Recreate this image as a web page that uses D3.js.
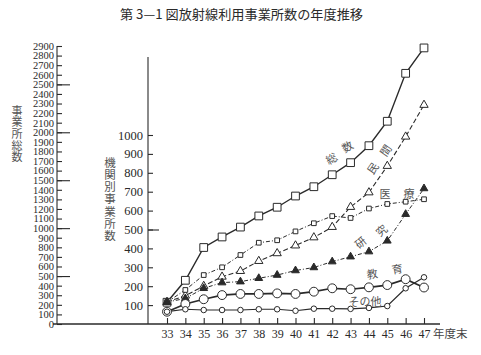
<!DOCTYPE html>
<html><head><meta charset="utf-8">
<script src="https://cdn.jsdelivr.net/npm/d3@7"></script>
<style>body{margin:0;background:#fff}svg{display:block}</style>
</head><body>
<script>
// ---- data ----
const years = [33,34,35,36,37,38,39,40,41,42,43,44,45,46,47];
const yearLabels = ["33","34","35","36","37","38","39","40","41","42","43","44","45","46","47"];
const leftTicks = [0,100,200,300,400,500,600,700,800,900,1000,1100,1200,1300,1400,1500,1600,1700,1800,1900,2000,2100,2200,2300,2400,2500,2600,2700,2800,2900];
const leftMajor = [500,1000,1500,2000,2500];
const midTicks = [100,200,300,400,500,600,700,800,900,1000];
const midMajor = [500];
// 総数 (left axis)
const total    = [227,456,798,908,1011,1127,1218,1335,1432,1557,1683,1860,2115,2615,2880];
// 機関別 (middle axis)
const minkan   = [116,150,201,250,280,333,374,415,458,513,619,696,836,991,1159];
const iryo     = [116,180,259,300,365,430,443,490,533,571,561,611,635,647,660];
const kenkyu   = [116,135,189,219,224,242,259,283,299,330,356,383,440,581,717];
const kyoiku   = [65,106,131,153,159,159,162,159,171,189,184,194,206,237,193];
const sonota   = [65,78,74,74,74,78,78,70,81,81,80,85,95,189,247];

const W = 481, H = 355;
const ink = "#2a2a2a";
const svg = d3.select("body").append("svg").attr("width",W).attr("height",H);
svg.append("rect").attr("width",W).attr("height",H).attr("fill","#fff");

const x  = d3.scaleLinear().domain([33,47]).range([167,424]);
const yL = d3.scaleLinear().domain([0,2900]).range([324,46]);
const yM = d3.scaleLinear().domain([0,1000]).range([324,135]);

const serif = "'Liberation Serif','DejaVu Serif',serif";
const cjk = "'Noto Sans CJK JP','Noto Sans CJK SC',sans-serif";

// title
svg.append("text").attr("x",120).attr("y",19).attr("font-family",cjk).attr("font-size",13)
  .attr("fill",ink).attr("textLength",243).attr("lengthAdjust","spacingAndGlyphs")
  .text("第 3—1 図放射線利用事業所数の年度推移");

// left axis
const gL = svg.append("g").attr("transform","translate(57,0)");
gL.call(d3.axisRight(yL).tickValues(leftTicks).tickSize(5).tickFormat(""));
gL.call(g=>g.select(".domain").remove());
gL.append("line").attr("y1",yL(0)).attr("y2",yL(2900)).attr("stroke",ink).attr("stroke-width",1.3);
const gLM = svg.append("g").attr("transform","translate(57,0)");
gLM.call(d3.axisRight(yL).tickValues(leftMajor).tickSize(13).tickFormat(""));
gLM.select(".domain").remove();
const gLT = svg.append("g").attr("transform","translate(57,0)");
gLT.call(d3.axisLeft(yL).tickValues(leftTicks).tickSize(0).tickPadding(3).tickFormat((d,i)=>String(leftTicks[i])));
gLT.select(".domain").remove();
gLT.selectAll("text").attr("font-family",serif).attr("font-size",10.5).attr("fill",ink);
[gL,gLM].forEach(g=>g.selectAll("line").attr("stroke",ink).attr("stroke-width",1.1));

// middle axis
const gM = svg.append("g").attr("transform","translate(148,0)");
gM.call(d3.axisRight(yM).tickValues(midTicks).tickSize(5).tickFormat(""));
gM.select(".domain").remove();
gM.append("line").attr("y1",yM(0)).attr("y2",57).attr("stroke",ink).attr("stroke-width",1.3);
const gMM = svg.append("g").attr("transform","translate(148,0)");
gMM.call(d3.axisRight(yM).tickValues(midMajor).tickSize(11).tickFormat(""));
gMM.select(".domain").remove();
const gMT = svg.append("g").attr("transform","translate(148,0)");
gMT.call(d3.axisLeft(yM).tickValues(midTicks).tickSize(0).tickPadding(5).tickFormat(d=>String(d)));
gMT.select(".domain").remove();
gMT.selectAll("text").attr("font-family",serif).attr("font-size",12.5).attr("fill",ink);
[gM,gMM].forEach(g=>g.selectAll("line").attr("stroke",ink).attr("stroke-width",1.1));

// x axis
svg.append("line").attr("x1",53).attr("x2",440).attr("y1",324).attr("y2",324).attr("stroke",ink).attr("stroke-width",1.3);
const gX = svg.append("g").attr("transform","translate(0,324)");
gX.call(d3.axisBottom(x).tickValues(years).tickSize(-6).tickPadding(5).tickFormat((d,i)=>yearLabels[i]));
gX.select(".domain").remove();
gX.selectAll("line").attr("stroke",ink).attr("stroke-width",1.1);
gX.selectAll("text").attr("font-family",serif).attr("font-size",12).attr("fill",ink);
svg.append("text").attr("x",433).attr("y",338).attr("font-family",cjk).attr("font-size",11.5).attr("fill","#444").text("年度末");

// vertical axis titles (single text each, vertical writing)
function vtext(str,cx,y0,size,spacing){
  svg.append("text").attr("x",cx).attr("y",y0)
    .style("writing-mode","vertical-rl").attr("letter-spacing",spacing)
    .attr("font-family",cjk).attr("font-size",size).attr("fill","#555").text(str);
}
vtext("事業所総数",17,105,11,0.7);
vtext("機関別事業所数",110,157,11.5,0.6);

// series
const series = [
  {v:total,  s:yL, dash:null,      w:1.4, sym:d3.symbolSquare,   size:60, fill:"#fff"},
  {v:minkan, s:yM, dash:"5,2.5",   w:1.1, sym:d3.symbolTriangle, size:30, fill:"#fff"},
  {v:iryo,   s:yM, dash:"4,2,1,2", w:1.0, sym:d3.symbolSquare,   size:22, fill:"#fff"},
  {v:kenkyu, s:yM, dash:"4,2,1,2", w:1.0, sym:d3.symbolTriangle, size:26, fill:ink},
  {v:kyoiku, s:yM, dash:null,      w:1.7, sym:d3.symbolCircle,   size:62, fill:"#fff"},
  {v:sonota, s:yM, dash:null,      w:1.2, sym:d3.symbolCircle,   size:24, fill:"#fff"}
];
series.forEach(se=>{
  const line = d3.line().x((d,i)=>x(years[i])).y(d=>se.s(d));
  svg.append("path").datum(se.v).attr("d",line).attr("fill","none").attr("stroke",ink)
    .attr("stroke-width",se.w).attr("stroke-dasharray",se.dash);
});
series.forEach(se=>{
  svg.append("g").selectAll("path").data(se.v).join("path")
    .attr("transform",(d,i)=>`translate(${x(years[i])},${se.s(d)})`)
    .attr("d",d3.symbol().type(se.sym).size(se.size))
    .attr("fill",se.fill).attr("stroke",ink).attr("stroke-width",1);
});

// in-chart labels
function lab(c,cx,cy,rot,size){
  svg.append("text").attr("transform",`translate(${cx},${cy}) rotate(${rot})`).attr("text-anchor","middle")
    .attr("dominant-baseline","central").attr("font-family",cjk).attr("font-size",size).attr("fill","#555").text(c);
}
lab("総",331,158,-30,11); lab("数",347,146,-30,11);
lab("民",372,168,-55,11); lab("間",385,150,-55,11);
lab("医",385,193,0,11);   lab("療",409,193,0,11);
lab("研",360,242,-40,11); lab("究",381,230,-40,11);
lab("教",372,273,-10,11); lab("育",397,268,-10,11);
lab("その他",365,301,0,11);
</script>
</body></html>
